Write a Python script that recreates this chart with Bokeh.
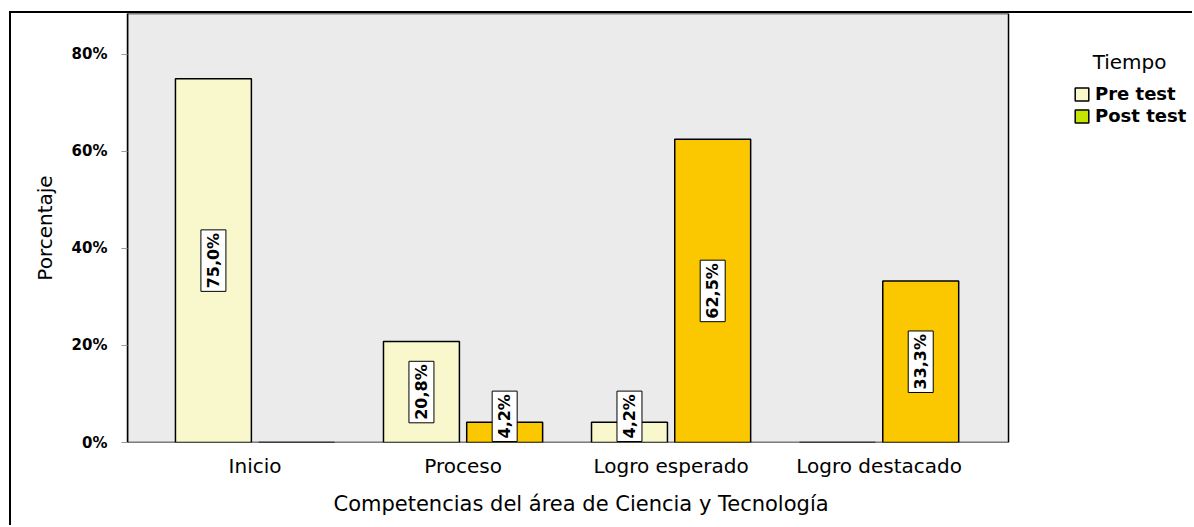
from math import pi

from bokeh.core.properties import value
from bokeh.embed import file_html
from bokeh.models import (BoxAnnotation, ColumnDataSource, FixedTicker, Label,
                          Legend, LegendItem, Range1d, Title)
from bokeh.plotting import figure
from bokeh.resources import INLINE

# --- data -----------------------------------------------------------------
categories = ["Inicio", "Proceso", "Logro esperado", "Logro destacado"]
pre_test = [75.0, 20.8, 4.2, 0.0]
post_test = [0.0, 4.2, 62.5, 33.3]
y_ticks = [0, 20, 40, 60, 80]
series_names = ["Pre test", "Post test"]
legend_title = "Tiempo"
x_title = "Competencias del área de Ciencia y Tecnología"
y_title = "Porcentaje"

# --- styling --------------------------------------------------------------
PRE_COLOR = "#f8f8cc"
POST_COLOR = "#fbc800"
POST_SWATCH = "#c6e400"
FRAME_BG = "#ebebeb"
OFFSET = 0.2
BAR_W = 0.365
LABEL_MIN_Y = 5.4        # keeps small value boxes resting on the baseline
X_START, AREA_END = -0.613, 3.622   # shaded plotting area (category units)
X_END = 4.516                       # extra room on the right for the legend
Y_END = 88.45


def fmt(v):
    return f"{v:.1f}".replace(".", ",") + "%"


idx = list(range(len(categories)))
pre_src = ColumnDataSource(dict(x=[i - OFFSET for i in idx], top=pre_test))
post_src = ColumnDataSource(dict(x=[i + OFFSET for i in idx], top=post_test))

lbl_x, lbl_y, lbl_t = [], [], []
for vals, off in ((pre_test, -OFFSET), (post_test, OFFSET)):
    for i, v in zip(idx, vals):
        if v > 0:
            lbl_x.append(i + off)
            lbl_y.append(max(v / 2, LABEL_MIN_Y))
            lbl_t.append(fmt(v))
lbl_src = ColumnDataSource(dict(x=lbl_x, y=lbl_y, t=lbl_t))

p = figure(
    width=1183, height=514,
    x_range=Range1d(X_START, X_END), y_range=Range1d(0, Y_END),
    output_backend="svg", toolbar_location=None,
    min_border_left=116, min_border_right=0,
    min_border_top=0, min_border_bottom=85,
)
p.margin = (11, 0, 0, 9)
p.styles = {"border-left": "2px solid black", "border-top": "2px solid black"}

p.background_fill_color = "white"
p.border_fill_color = "white"
p.outline_line_color = None
p.grid.visible = False

# shaded plotting area with its black border
p.add_layout(BoxAnnotation(left=X_START, right=AREA_END, bottom=0, top=Y_END,
                           fill_color=FRAME_BG, fill_alpha=1,
                           line_color="black", line_alpha=1, line_width=1.5,
                           level="underlay"))

pre_r = p.vbar(x="x", top="top", width=BAR_W, source=pre_src,
               fill_color=PRE_COLOR, line_color="black", line_width=1.5)
p.vbar(x="x", top="top", width=BAR_W, source=post_src,
       fill_color=POST_COLOR, line_color="black", line_width=1.5)

# legend-only renderer (nothing drawn in the plot) for the second swatch
swatch_r = p.vbar(x=[float("nan")], top=[float("nan")], width=BAR_W,
                  fill_color=POST_SWATCH, line_color="black", line_width=1.5)

p.text(x="x", y="y", text="t", source=lbl_src, angle=pi / 2,
       text_font=value("DejaVu Sans"), text_font_style="bold",
       text_font_size="16px", text_align="center", text_baseline="middle",
       text_color="black", background_fill_color="white",
       border_line_color="black", border_line_width=1, padding=3)

# y axis
ya = p.yaxis[0]
ya.ticker = FixedTicker(ticks=y_ticks)
ya.major_label_overrides = {t: f"{t}%" for t in y_ticks}
ya.major_label_text_font = "DejaVu Sans"
ya.major_label_text_font_style = "bold"
ya.major_label_text_font_size = "15px"
ya.major_label_text_color = "black"
ya.major_tick_out = 6
ya.major_tick_in = 0
ya.major_tick_line_color = "#9a9a9a"
ya.minor_tick_line_color = None
ya.major_label_standoff = 14
ya.axis_line_color = "black"
ya.axis_line_width = 1.5
ya.axis_label = y_title
ya.axis_label_text_font = "DejaVu Sans"
ya.axis_label_text_font_style = "normal"
ya.axis_label_text_font_size = "20px"
ya.axis_label_text_color = "black"
ya.axis_label_standoff = 12

# x axis (baseline comes from the shaded area's border)
xa = p.xaxis[0]
xa.ticker = FixedTicker(ticks=idx)
xa.major_label_overrides = {i: c for i, c in zip(idx, categories)}
xa.major_label_text_font = "DejaVu Sans"
xa.major_label_text_font_size = "20px"
xa.major_label_text_color = "black"
xa.major_tick_line_color = None
xa.minor_tick_line_color = None
xa.major_label_standoff = 5
xa.axis_line_color = None

p.add_layout(Title(text=x_title, align="left", offset=206, standoff=19,
                   text_font="DejaVu Sans", text_font_style="normal",
                   text_font_size="21px", text_color="black"), "below")

# legend
p.add_layout(Label(x=4.204, y=78.35, text=legend_title,
                   text_font="DejaVu Sans", text_font_size="20px",
                   text_align="center", text_baseline="middle",
                   text_color="black"))
legend = Legend(
    items=[LegendItem(label=series_names[0], renderers=[pre_r]),
           LegendItem(label=series_names[1], renderers=[swatch_r])],
    label_text_font="DejaVu Sans", label_text_font_size="18px",
    label_text_font_style="bold", label_text_color="black",
    glyph_width=17, glyph_height=16, label_height=16, label_standoff=5,
    spacing=1, padding=0, margin=0,
    border_line_color=None, background_fill_alpha=0,
    location=(946, 316),
)
p.add_layout(legend)

open("out.html", "w").write(file_html(p, INLINE))
